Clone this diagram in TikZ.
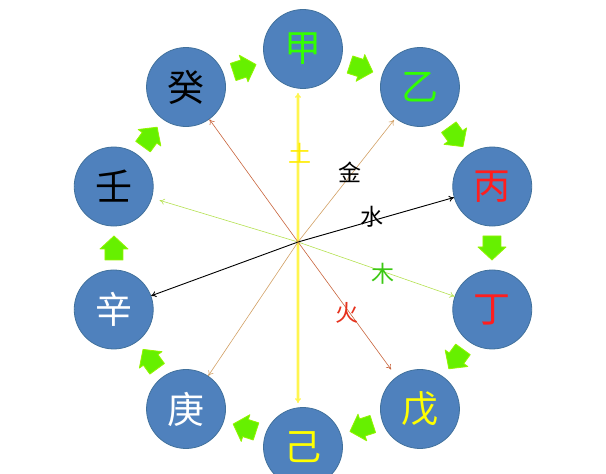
\documentclass[tikz,border=0pt]{standalone}
\usepackage{fontspec}
\setmainfont{Noto Sans CJK SC}
\usetikzlibrary{calc,arrows.meta}
\definecolor{cfill}{RGB}{79,129,189}
\definecolor{cedge}{RGB}{65,113,156}
\definecolor{agreen}{RGB}{102,240,0}
\definecolor{tgreen}{RGB}{51,255,0}
\definecolor{tred}{RGB}{255,30,30}
\definecolor{tyellow}{RGB}{255,255,0}
\definecolor{ltu}{RGB}{255,245,80}
\definecolor{lmu}{RGB}{180,225,80}
\definecolor{lhuo}{RGB}{200,100,60}
\definecolor{ljin}{RGB}{210,160,100}
\definecolor{kmu}{RGB}{60,200,20}
\definecolor{khuo}{RGB}{230,50,30}
\definecolor{ktu}{RGB}{255,235,0}
\begin{document}
\begin{tikzpicture}[x=1pt,y=1pt,
 stem/.style={circle, fill=cfill, draw=cedge, line width=0.8pt, minimum size=79pt, inner sep=0pt, font=\fontsize{37}{37}\selectfont},
 flow/.style={fill=agreen, draw=agreen!70!yellow, line width=0.8pt, line join=round},
 ray/.style={-{To[length=5pt,width=6pt]}, line width=0.6pt},
 elem/.style={font=\fontsize{23}{23}\selectfont, inner sep=0pt}]
\useasboundingbox (-303,-226) rectangle (303,248);
\node[stem, text=tgreen] (jia) at (90:199) {甲};
\node[stem, text=tgreen] (yi) at (54:199) {乙};
\node[stem, text=tred] (bing) at (18:199) {丙};
\node[stem, text=tred] (ding) at (-18:199) {丁};
\node[stem, text=tyellow] (wu) at (-54:199) {戊};
\node[stem, text=tyellow] (ji) at (-90:199) {己};
\node[stem, text=white] (geng) at (-126:199) {庚};
\node[stem, text=white] (xin) at (-162:199) {辛};
\node[stem, text=black] (ren) at (162:199) {壬};
\node[stem, text=black] (gui) at (126:199) {癸};
\foreach \a in {72,36,0,-36,-72,-108,-144,-180,-216,-252}
  \path[flow, shift={(\a:189)}, rotate=\a-90]
    (-12,-9) -- (-1,-9) -- (-1,-14) -- (12,0) -- (-1,14) -- (-1,9) -- (-12,9) -- cycle;
\coordinate (c) at (-5,6);
\draw[ltu!35, line width=4pt, shorten >=6pt] (c) -- (c |- jia.south);
\draw[ltu!35, line width=4pt, shorten >=6pt] (c) -- (c |- ji.north);
\draw[ray, ltu, line width=1.3pt, shorten >=4pt] (c) -- (c |- jia.south);
\draw[ray, ltu, line width=1.3pt, shorten >=4pt] (c) -- (c |- ji.north);
\draw[ray, ljin, shorten >=2pt] (c) -- (yi);
\draw[ray, ljin] (c) -- (geng);
\draw[ray, black, line width=0.9pt] (c) -- (bing);
\draw[ray, black, line width=0.9pt] (c) -- (xin);
\draw[ray, lmu] (c) -- (ding);
\draw[ray, lmu, shorten >=8pt] (c) -- (ren);
\draw[ray, lhuo, shorten >=9pt] (c) -- (wu);
\draw[ray, lhuo] (c) -- (gui);
\node[elem, text=ktu] (tu) at (-3,95) {土};
\node[elem, text=black] (jin) at (47,76) {金};
\node[elem, text=black] (shui) at (69,31) {水};
\node[elem, text=kmu] (mu) at (80,-26) {木};
\node[elem, text=khuo] (huo) at (44,-65) {火};
\end{tikzpicture}
\end{document}
